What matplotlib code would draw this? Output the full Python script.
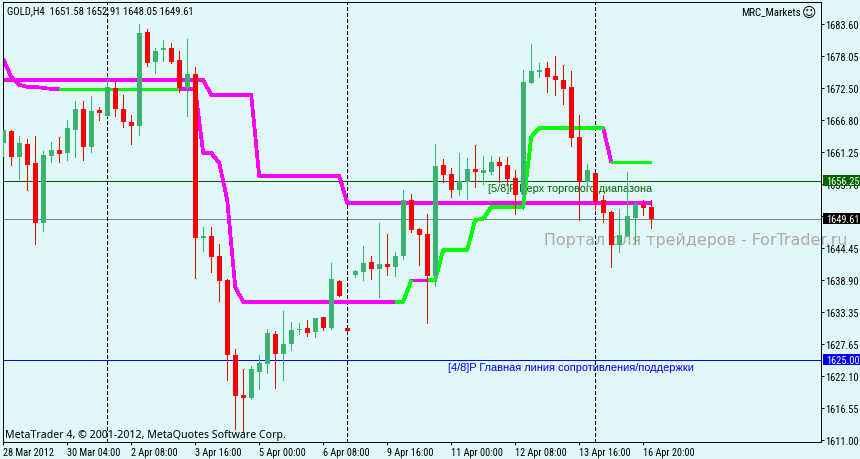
import matplotlib
matplotlib.use("Agg")
import matplotlib.pyplot as plt
from matplotlib.patches import Rectangle
from matplotlib.transforms import blended_transform_factory

W, H = 860, 460
BG = "#e0f8f8"
UP = "#3cb371"
DOWN = "#ff0000"
NARROW = ["Liberation Sans Narrow", "Roboto Condensed", "Noto Sans", "DejaVu Sans"]
TEXT_FONT = ["Noto Sans", "DejaVu Sans"]

# --- GOLD H4, bar by bar ---
opens = [1662.84, 1664.93, 1660.39, 1662.66, 1659.35, 1648.88, 1660.57, 1661.61, 1661.09, 1665.10,
         1668.77, 1662.14, 1668.59, 1667.50, 1672.43, 1668.77, 1666.50, 1665.80, 1682.20, 1676.97,
         1679.06, 1679.41, 1677.32, 1672.43, 1674.88, 1646.26, 1646.61, 1643.12, 1638.85, 1625.83,
         1618.85, 1618.33, 1622.87, 1624.26, 1629.50, 1626.01, 1627.75, 1630.19, 1630.54, 1629.85,
         1632.46, 1630.54, 1638.67, 1630.54, 1639.80, 1640.32, 1642.07, 1640.84, 1641.72, 1641.20,
         1643.12, 1652.89, 1647.83, 1646.96, 1639.62, 1659.00, 1657.42, 1654.63, 1656.03, 1658.30,
         1657.60, 1657.77, 1659.52, 1659.00, 1656.73, 1653.76, 1673.30, 1675.22, 1675.92, 1674.53,
         1673.83, 1672.61, 1663.88, 1656.03, 1657.60, 1652.89, 1650.79, 1645.03, 1646.61, 1649.75,
         1652.02, 1651.58]
highs = [1665.10, 1665.10, 1664.06, 1663.53, 1664.06, 1661.44, 1663.01, 1663.88, 1666.85, 1670.16,
         1670.16, 1671.04, 1669.11, 1674.53, 1673.65, 1671.21, 1667.72, 1683.60, 1682.73, 1679.41,
         1680.81, 1680.29, 1678.89, 1680.98, 1676.10, 1648.18, 1648.18, 1645.21, 1639.02, 1626.88,
         1623.39, 1623.91, 1625.83, 1630.37, 1630.02, 1633.51, 1631.59, 1631.42, 1631.94, 1632.29,
         1632.46, 1641.90, 1638.85, 1630.54, 1640.67, 1644.86, 1643.12, 1648.88, 1646.96, 1643.81,
         1654.63, 1653.93, 1648.00, 1650.45, 1662.66, 1660.04, 1658.47, 1661.09, 1660.22, 1662.49,
         1660.57, 1660.57, 1660.39, 1660.39, 1658.12, 1675.57, 1680.11, 1676.80, 1676.97, 1678.02,
         1676.45, 1675.40, 1667.72, 1659.17, 1657.60, 1653.76, 1650.97, 1651.32, 1657.77, 1652.54,
         1652.89, 1652.91]
lows = [1660.57, 1659.00, 1656.55, 1654.63, 1645.21, 1647.48, 1659.53, 1659.53, 1659.87, 1660.39,
        1659.87, 1661.26, 1666.85, 1667.50, 1667.50, 1665.63, 1662.66, 1664.23, 1676.27, 1675.05,
        1677.14, 1676.80, 1671.73, 1667.50, 1639.28, 1643.99, 1640.32, 1635.26, 1621.47, 1612.92,
        1612.40, 1618.15, 1619.90, 1622.69, 1620.07, 1621.47, 1626.71, 1629.50, 1629.15, 1628.98,
        1630.19, 1630.37, 1636.13, 1630.02, 1639.45, 1638.85, 1639.10, 1635.95, 1639.80, 1639.62,
        1642.59, 1647.30, 1641.54, 1631.42, 1637.88, 1656.03, 1653.41, 1653.76, 1653.06, 1655.15,
        1655.68, 1657.42, 1656.03, 1655.50, 1650.45, 1651.32, 1673.30, 1674.35, 1671.73, 1671.21,
        1669.64, 1662.31, 1649.40, 1655.15, 1651.32, 1649.05, 1641.20, 1643.81, 1646.61, 1645.21,
        1650.27, 1648.05]
closes = [1665.10, 1660.39, 1662.84, 1659.00, 1648.88, 1660.74, 1661.61, 1660.92, 1665.45, 1668.77,
          1662.14, 1668.42, 1668.07, 1672.61, 1668.77, 1666.50, 1665.80, 1682.03, 1676.80, 1678.89,
          1679.41, 1676.97, 1672.43, 1674.88, 1646.26, 1646.61, 1642.94, 1638.67, 1625.83, 1618.68,
          1618.33, 1623.39, 1624.44, 1629.67, 1626.01, 1627.75, 1630.19, 1630.37, 1629.67, 1632.29,
          1630.54, 1639.10, 1636.13, 1630.02, 1640.50, 1641.90, 1640.84, 1641.72, 1641.20, 1643.12,
          1652.89, 1647.65, 1646.78, 1639.62, 1658.82, 1657.25, 1654.63, 1656.20, 1658.30, 1657.77,
          1658.12, 1659.52, 1658.82, 1656.55, 1653.76, 1673.48, 1675.40, 1675.57, 1674.35, 1673.83,
          1672.26, 1663.71, 1656.03, 1658.12, 1652.54, 1650.62, 1645.03, 1646.78, 1650.10, 1652.19,
          1651.49, 1649.61]

# --- indicator lines, one value per bar ---
upper_line = [1673.83, 1673.83, 1673.83, 1673.83, 1673.83, 1673.83, 1673.83, 1673.83, 1673.83, 1673.83,
              1673.83, 1673.83, 1673.83, 1673.83, 1673.83, 1673.83, 1673.83, 1673.83, 1673.83, 1673.83,
              1673.83, 1673.83, 1673.83, 1673.83, 1673.83, 1673.83, 1671.21, 1671.21, 1671.21, 1671.21,
              1671.21, 1671.21, 1657.07, 1657.07, 1657.07, 1657.07, 1657.07, 1657.07, 1657.07, 1657.07,
              1657.07, 1657.07, 1657.07, 1652.37, 1652.37, 1652.37, 1652.37, 1652.37, 1652.37, 1652.37,
              1652.37, 1652.37, 1652.37, 1652.37, 1652.37, 1652.37, 1652.37, 1652.37, 1652.37, 1652.37,
              1652.37, 1652.37, 1652.37, 1652.37, 1652.37, 1652.37, 1652.37, 1652.37, 1652.37, 1652.37,
              1652.37, 1652.37, 1652.37, 1652.37, 1652.37, 1652.37, 1652.37, 1652.37, 1652.37, 1652.37,
              1652.37, 1652.37]
lower_line = [1677.49, 1674.35, 1672.96, 1672.61, 1672.61, 1672.43, 1672.26, 1672.26, 1672.26, 1672.26,
              1672.26, 1672.26, 1672.26, 1672.26, 1672.26, 1672.26, 1672.26, 1672.26, 1672.26, 1672.26,
              1672.26, 1672.26, 1672.26, 1672.26, 1672.26, 1661.09, 1661.09, 1659.35, 1652.89, 1637.70,
              1635.08, 1635.08, 1635.08, 1635.08, 1635.08, 1635.08, 1635.08, 1635.08, 1635.08, 1635.08,
              1635.08, 1635.08, 1635.08, 1635.08, 1635.08, 1635.08, 1635.08, 1635.08, 1635.08, 1635.08,
              1635.08, 1638.85, 1638.85, 1638.85, 1638.85, 1644.16, 1644.16, 1644.16, 1644.16, 1649.40,
              1649.57, 1651.66, 1651.66, 1651.66, 1651.66, 1651.66, 1663.88, 1665.45, 1665.45, 1665.45,
              1665.45, 1665.45, 1665.45, 1665.45, 1665.45, 1665.45, 1659.52, 1659.52, 1659.52, 1659.52,
              1659.52, 1659.52]
# stretches of the lower line: (first bar, last bar) by colour
magenta_runs = [(0, 7), (22, 49), (51, 53), (75, 76)]
green_runs = [(7, 22), (49, 51), (53, 75), (76, 81)]

levels = [1656.25, 1649.61, 1625.00]
level_colors = ["#006400", "#778899", "#0000ff"]
tag_colors = ["#006400", "#000000", "#0000ff"]
dash_bars = [13, 43, 74]

price_ticks = [1683.60, 1678.05, 1672.50, 1666.80, 1661.25, 1655.70, 1650.15,
               1644.45, 1638.90, 1633.35, 1627.65, 1622.10, 1616.55, 1611.00]
time_ticks = [0, 8, 16, 24, 32, 40, 48, 56, 64, 72, 80]
time_labels = ["28 Mar 2012", "30 Mar 04:00", "2 Apr 08:00", "3 Apr 16:00", "5 Apr 00:00",
               "6 Apr 08:00", "9 Apr 16:00", "11 Apr 00:00", "12 Apr 08:00",
               "13 Apr 16:00", "16 Apr 20:00"]


def px(n):
    # pixels to points at this dpi
    return n * 72 / 100


fig = plt.figure(figsize=(W / 100, H / 100), dpi=100, facecolor=BG)
ax = fig.add_axes([2.5 / W, 1 - 442.5 / H, 818 / W, 440 / H], facecolor=BG)
ax.set_xlim(-0.0875, 102.1625)
ax.set_ylim(1610.72, 1687.51)

# --- levels and separators, behind everything ---
for price, color in zip(levels, level_colors):
    ax.axhline(price, color=color, linewidth=px(1), antialiased=False, zorder=1)
for bar in dash_bars:
    ax.axvline(bar, color="black", linewidth=px(1), linestyle=(0, (3.4, 2.6)),
               antialiased=False, zorder=1)

# --- labels painted under the candles ---
label_kw = dict(transform=fig.transFigure, va="center", clip_on=False, zorder=1.5)
ax.text(488 / W, 1 - 189 / H, "[5/8]P Верх торгового диапазона", color="#006400",
        fontsize=7.85, family="Liberation Sans", **label_kw)
ax.text(448 / W, 1 - 368 / H, "[4/8]P Главная линия сопротивления/поддержки", color="#0000ff",
        fontsize=7.92, family="Liberation Sans", **label_kw)
ax.text(544 / W, 1 - 241 / H, "Портал для трейдеров - ForTrader.ru", color="#b0a8a8",
        fontsize=11.4, family="DejaVu Sans", **label_kw)

# --- indicator lines ---
bars = list(range(len(opens)))
line_kw = dict(linewidth=px(2.7), antialiased=False, solid_capstyle="butt", zorder=2)
ax.plot(bars, upper_line, color="#ff00ff", **line_kw)
for start, stop in magenta_runs:
    ax.plot(bars[start:stop + 1], lower_line[start:stop + 1], color="#ff00ff", **line_kw)
for start, stop in green_runs:
    ax.plot(bars[start:stop + 1], lower_line[start:stop + 1], color="#00ff00", **line_kw)

# --- candles ---
colors = [UP if c >= o else DOWN for o, c in zip(opens, closes)]
ax.vlines(bars, lows, highs, colors=colors, linewidth=px(1), antialiased=False, zorder=3)
ax.bar(bars, [abs(c - o) for o, c in zip(opens, closes)],
       bottom=[min(o, c) for o, c in zip(opens, closes)],
       width=0.6, color=colors, linewidth=0, antialiased=False, zorder=3)

# --- axes ---
for side in ax.spines.values():
    side.set_linewidth(px(1))
ax.yaxis.tick_right()
ax.set_yticks(price_ticks, [f"{p:.2f}" for p in price_ticks], family=NARROW, fontsize=7.5)
ax.set_xticks(time_ticks, time_labels, family=NARROW, fontsize=7.4, ha="left")
ax.tick_params(axis="y", length=px(3), width=px(1), pad=px(2))
ax.tick_params(axis="x", length=px(3), width=px(1), pad=px(2.5))

# --- last price / level tags on the price scale ---
tag_tr = blended_transform_factory(fig.transFigure, ax.transData)
for price, color in zip(levels, tag_colors):
    ax.add_patch(Rectangle((823 / W, price - 0.96), 37 / W, 1.92, transform=tag_tr,
                           facecolor=color, edgecolor="none", clip_on=False,
                           antialiased=False, zorder=5))
    ax.text(826 / W, price, f"{price:.2f}", transform=tag_tr, color="white", va="center",
            family=NARROW, fontsize=7.5, clip_on=False, zorder=6)

# --- corner texts ---
fig.text(7 / W, 1 - 11 / H, "GOLD,H4  1651.58 1652.91 1648.05 1649.61", va="center",
         family=NARROW, fontsize=7.7)
fig.text(801 / W, 1 - 12 / H, "MRC_Markets", va="center", ha="right",
         family=NARROW, fontsize=7.8)
fig.text(809.5 / W, 1 - 12.5 / H, "\u263a", va="center", ha="center",
         family="DejaVu Sans", fontsize=10)
fig.text(5 / W, 1 - 436 / H, "MetaTrader 4, © 2001-2012, MetaQuotes Software Corp.", va="center",
         family=TEXT_FONT, fontsize=7.6)

fig.savefig("out.png", dpi=100, facecolor=BG)
